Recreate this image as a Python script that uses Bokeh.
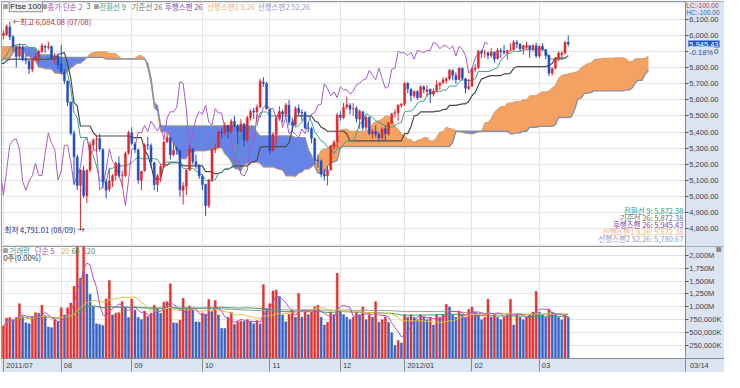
import numpy as np
import pandas as pd
from bokeh.plotting import figure
from bokeh.layouts import column
from bokeh.models import Range1d, FixedTicker, NumeralTickFormatter, Label, LinearAxis
from bokeh.embed import file_html
from bokeh.resources import INLINE

# ---------------- data ----------------
symbol = "Ftse 100"
holidays = ["2011-08-29", "2011-12-26", "2011-12-27", "2012-01-02"]
dates = [d for d in pd.bdate_range("2011-07-06", "2012-03-14")
         if d.strftime("%Y-%m-%d") not in holidays]

opens_jul = [6000, 6005, 6050, 5990, 5925, 5870, 5925, 5850, 5840, 5790, 5850, 5865, 5900, 5930, 5925, 5930, 5855, 5870]
highs_jul = [6030, 6065, 6084.08, 6000, 5935, 5950, 5940, 5880, 5845, 5850, 5890, 5910, 5950, 5940, 5960, 5935, 5890, 5880]
lows_jul = [5975, 5995, 5970, 5900, 5800, 5860, 5840, 5820, 5760, 5770, 5840, 5830, 5890, 5890, 5910, 5850, 5820, 5790]
closes_jul = [6010, 6054, 5990, 5929, 5868, 5929, 5847, 5843, 5792, 5847, 5867, 5900, 5935, 5926, 5929, 5857, 5873, 5815]

opens_aug = [5820, 5770, 5715, 5585, 5390, 5245, 5070, 5160, 5005, 5165, 5320, 5355, 5360, 5290, 5090, 5045, 5095, 5130, 5205, 5130, 5130, 5270]
highs_aug = [5940, 5790, 5720, 5590, 5410, 5260, 5170, 5190, 5170, 5340, 5360, 5380, 5390, 5300, 5110, 5170, 5140, 5220, 5250, 5160, 5280, 5410]
lows_aug = [5760, 5700, 5560, 5380, 5080, 5040, 4791.01, 4990, 4960, 5150, 5290, 5280, 5280, 5050, 4990, 5030, 5060, 5100, 5120, 5060, 5120, 5260]
closes_aug = [5774, 5718, 5585, 5393, 5247, 5069, 5165, 5008, 5162, 5320, 5351, 5357, 5295, 5093, 5040, 5096, 5129, 5206, 5131, 5130, 5268, 5395]

opens_sep = [5395, 5325, 5290, 5100, 5160, 5320, 5315, 5210, 5075, 5130, 5185, 5340, 5365, 5260, 5300, 5285, 5040, 5065, 5165, 5295, 5215, 5195]
highs_sep = [5430, 5340, 5295, 5160, 5330, 5370, 5330, 5215, 5140, 5200, 5345, 5400, 5370, 5340, 5310, 5290, 5090, 5170, 5320, 5300, 5260, 5200]
lows_sep = [5320, 5270, 5080, 5040, 5155, 5290, 5180, 5040, 5030, 5090, 5180, 5330, 5230, 5250, 5260, 5000, 4950, 5010, 5160, 5200, 5170, 5110]
closes_sep = [5330, 5292, 5103, 5156, 5318, 5319, 5215, 5073, 5129, 5186, 5338, 5368, 5260, 5288, 5289, 5042, 5066, 5165, 5295, 5217, 5197, 5128]

opens_oct = [5125, 5075, 4945, 5105, 5290, 5305, 5400, 5395, 5440, 5405, 5465, 5435, 5405, 5450, 5350, 5490, 5530, 5525, 5555, 5710, 5700]
highs_oct = [5140, 5080, 5110, 5300, 5330, 5410, 5420, 5460, 5445, 5480, 5500, 5450, 5480, 5455, 5500, 5540, 5550, 5570, 5730, 5740, 5710]
lows_oct = [5040, 4880, 4930, 5090, 5270, 5300, 5360, 5380, 5360, 5390, 5430, 5330, 5400, 5310, 5340, 5470, 5480, 5460, 5550, 5680, 5540]
closes_oct = [5075, 4944, 5103, 5292, 5303, 5400, 5395, 5441, 5404, 5467, 5437, 5406, 5450, 5350, 5488, 5526, 5525, 5553, 5713, 5702, 5544]

opens_nov = [5540, 5285, 5385, 5485, 5525, 5510, 5565, 5460, 5445, 5545, 5520, 5520, 5425, 5420, 5360, 5225, 5220, 5140, 5130, 5165, 5310, 5340]
highs_nov = [5545, 5400, 5500, 5560, 5540, 5580, 5600, 5480, 5560, 5570, 5540, 5530, 5460, 5430, 5365, 5260, 5230, 5170, 5190, 5320, 5350, 5520]
lows_nov = [5260, 5280, 5320, 5470, 5460, 5490, 5440, 5400, 5440, 5500, 5470, 5420, 5400, 5330, 5200, 5180, 5120, 5100, 5070, 5160, 5290, 5300]
closes_nov = [5284, 5384, 5484, 5527, 5511, 5567, 5461, 5444, 5545, 5519, 5518, 5424, 5423, 5362, 5223, 5222, 5139, 5128, 5164, 5313, 5337, 5505]

opens_dec = [5505, 5490, 5555, 5565, 5545, 5545, 5480, 5525, 5430, 5490, 5390, 5405, 5385, 5365, 5420, 5390, 5455, 5515, 5520, 5565]
highs_dec = [5530, 5580, 5620, 5580, 5580, 5560, 5540, 5530, 5500, 5495, 5420, 5440, 5400, 5430, 5440, 5460, 5520, 5540, 5570, 5580]
lows_dec = [5470, 5480, 5540, 5510, 5500, 5460, 5420, 5410, 5410, 5380, 5360, 5370, 5340, 5350, 5350, 5380, 5450, 5490, 5470, 5550]
closes_dec = [5490, 5552, 5568, 5543, 5547, 5484, 5529, 5428, 5491, 5391, 5403, 5387, 5364, 5419, 5390, 5457, 5512, 5519, 5567, 5572]

opens_jan = [5575, 5700, 5665, 5625, 5650, 5615, 5680, 5650, 5665, 5635, 5655, 5690, 5705, 5720, 5730, 5780, 5750, 5725, 5795, 5730, 5670]
highs_jan = [5710, 5710, 5670, 5660, 5660, 5690, 5690, 5690, 5670, 5670, 5720, 5710, 5740, 5740, 5790, 5790, 5770, 5800, 5800, 5735, 5730]
lows_jan = [5562.34, 5640, 5590, 5610, 5600, 5610, 5640, 5620, 5580, 5620, 5650, 5660, 5700, 5700, 5720, 5720, 5700, 5720, 5720, 5640, 5660]
closes_jan = [5700, 5668, 5625, 5650, 5613, 5680, 5662, 5662, 5637, 5654, 5693, 5703, 5722, 5729, 5782, 5752, 5724, 5796, 5733, 5671, 5682]

opens_feb = [5685, 5790, 5800, 5900, 5890, 5890, 5875, 5895, 5855, 5905, 5900, 5890, 5905, 5910, 5955, 5945, 5915, 5925, 5935, 5915, 5935]
highs_feb = [5800, 5820, 5910, 5910, 5910, 5900, 5920, 5900, 5920, 5920, 5940, 5910, 5950, 5970, 5970, 5950, 5940, 5960, 5940, 5945, 5955]
lows_feb = [5680, 5770, 5790, 5860, 5860, 5850, 5860, 5830, 5850, 5860, 5880, 5850, 5900, 5905, 5920, 5900, 5880, 5910, 5860, 5900, 5860]
closes_feb = [5790, 5796, 5901, 5892, 5890, 5875, 5895, 5852, 5906, 5899, 5892, 5905, 5906, 5956, 5946, 5916, 5935, 5935, 5915, 5934, 5872]

opens_mar = [5870, 5930, 5910, 5875, 5765, 5795, 5860, 5880, 5890, 5956]
highs_mar = [5935, 5950, 5915, 5880, 5800, 5865, 5900, 5900, 5965, 5999]
lows_mar = [5860, 5900, 5850, 5745.76, 5750, 5790, 5840, 5860, 5880, 5930]
closes_mar = [5931, 5912, 5875, 5765, 5792, 5859, 5888, 5888, 5956.15, 5945.43]

# volume, millions of shares
volume_jul = [630, 784, 796, 747, 796, 1061, 814, 691, 672, 814, 888, 876, 1030, 833, 611, 598, 753, 722]
volume_aug = [981, 845, 981, 1074, 1400, 2300, 1555, 2350, 1635, 1246, 1000, 672, 660, 640, 1154, 1512, 845, 876, 888, 1104, 1000, 796]
volume_sep = [1154, 938, 796, 753, 919, 814, 876, 1030, 969, 876, 1092, 1100, 1450, 691, 685, 740, 1166, 981, 1018, 938, 710, 705]
volume_oct = [876, 860, 1141, 907, 1123, 845, 586, 580, 796, 895, 660, 710, 722, 715, 753, 710, 672, 734, 670, 1431, 969]
volume_nov = [1061, 1308, 1327, 1203, 845, 710, 858, 938, 800, 1260, 800, 900, 850, 900, 1000, 1030, 800, 650, 700, 900, 850, 1650]
volume_dec = [900, 850, 800, 750, 800, 900, 850, 1000, 750, 850, 800, 1100, 700, 750, 800, 700, 500, 250, 350, 300]
volume_jan = [850, 800, 850, 800, 750, 850, 800, 750, 800, 650, 850, 800, 850, 1050, 1000, 850, 800, 900, 850, 800, 950]
volume_feb = [1000, 900, 850, 750, 800, 1150, 800, 850, 800, 750, 800, 850, 1150, 650, 850, 800, 750, 800, 850, 900, 1300]
volume_mar = [900, 850, 800, 950, 900, 850, 800, 750, 850, 800]

# 77 sessions before the first shown bar (needed by the Ichimoku windows)
pre_high = [5860, 5830, 5700, 5720, 5760, 5800, 5800, 5810, 5890, 5920, 5930, 5940, 5960, 5955,
            6020, 6040, 6030, 6060, 6045, 6070, 6075, 6050, 6020, 6010, 6010, 5995, 5910, 6030, 6045, 6080, 6085, 6090,
            6105, 6080, 5990, 5990, 5980, 5990, 5990, 5960, 5960, 5940, 5920, 5930, 5965, 5965, 5945, 5880, 5880, 5900, 5945, 5995,
            5995, 5930, 5900, 5880, 5900, 5865, 5870, 5860, 5800, 5820, 5805, 5745, 5760, 5740, 5785, 5790, 5770, 5760, 5770, 5790, 5865, 5950,
            6000, 6030, 6025]
pre_low = [5780, 5640, 5599, 5620, 5680, 5720, 5750, 5740, 5790, 5870, 5880, 5880, 5930, 5900,
           5910, 5990, 5980, 6000, 5990, 6000, 6030, 5920, 5930, 5940, 5950, 5860, 5860, 5900, 6000, 6020, 6040, 6040,
           6050, 5975, 5850, 5860, 5920, 5930, 5930, 5890, 5910, 5890, 5840, 5860, 5910, 5930, 5810, 5820, 5830, 5850, 5880, 5935,
           5920, 5840, 5830, 5840, 5850, 5800, 5800, 5750, 5740, 5770, 5730, 5650, 5690, 5680, 5720, 5760, 5620, 5680, 5690, 5750, 5780, 5850,
           5940, 5985, 5970]

opens = opens_jul + opens_aug + opens_sep + opens_oct + opens_nov + opens_dec + opens_jan + opens_feb + opens_mar
highs = highs_jul + highs_aug + highs_sep + highs_oct + highs_nov + highs_dec + highs_jan + highs_feb + highs_mar
lows = lows_jul + lows_aug + lows_sep + lows_oct + lows_nov + lows_dec + lows_jan + lows_feb + lows_mar
closes = closes_jul + closes_aug + closes_sep + closes_oct + closes_nov + closes_dec + closes_jan + closes_feb + closes_mar
volumes = volume_jul + volume_aug + volume_sep + volume_oct + volume_nov + volume_dec + volume_jan + volume_feb + volume_mar

# ---------------- derived (indicator maths) ----------------
N = len(closes)
idx = np.arange(N)
o = np.array(opens, float); h = np.array(highs, float)
l = np.array(lows, float); c = np.array(closes, float)
vol = np.array(volumes, float)

npre = len(pre_high)
H = pd.Series(pre_high + highs, dtype=float)
L = pd.Series(pre_low + lows, dtype=float)
b_all = np.arange(len(H)) - npre
mid = lambda n: ((H.rolling(n).max() + L.rolling(n).min()) / 2).to_numpy()
tenkan = mid(9); kijun = mid(26); span2 = mid(52)
span1 = (tenkan + kijun) / 2
SHIFT = 25

RED, BLUE = "#e3262b", "#1f4fc4"
col = np.where(c >= o, RED, BLUE)
vup = np.concatenate([[True], vol[1:] >= vol[:-1]])
vcol = np.where(vup, "#e5322f", "#3563c4")

# ---------------- layout constants ----------------
FONT_KR = "Noto Sans CJK KR"
FONT_NUM = "Liberation Sans"
W, H1, H2 = 724, 246, 126
FH1, FH2 = 245, 112
SX, SY = 724 / 740, 372 / 388
PXB = 3.209
x0 = -0.60
x_end = 212.5          # right price axis position (bar units)
x_far = 224.7          # right edge of the canvas (bar units)
xr = Range1d(x0, x_far)
AXIS_BG = "#dbe5f1"
GRID = "#e3e3e3"
TXT = "#3c4250"

def lab(fig, fig_top, frame_top, frame_h, rx, ry, text, color, size="7.5px",
        align="left", font=FONT_KR, **kw):
    fig.add_layout(Label(x=rx * SX - 1, y=frame_h - (ry * SY - fig_top - frame_top),
                         x_units="screen", y_units="screen", text=text,
                         text_color=color, text_font_size=size, text_align=align,
                         text_baseline="middle", text_font=font, **kw))

def price_axis(fig, ticks, formatter=None, overrides=None):
    ax = LinearAxis(fixed_location=x_end, ticker=FixedTicker(ticks=ticks))
    if formatter is not None:
        ax.formatter = formatter
    if overrides is not None:
        ax.major_label_overrides = overrides
    ax.major_label_text_font_size = "7.5px"
    ax.major_label_text_font = FONT_NUM
    ax.major_label_text_color = TXT
    ax.major_tick_out = 3
    ax.major_tick_in = 0
    ax.minor_tick_out = 0
    ax.minor_tick_in = 0
    ax.major_label_standoff = 1
    ax.axis_line_color = "#8a8a8a"
    ax.major_tick_line_color = "#555555"
    fig.add_layout(ax, "right")

# ---------------- main price panel ----------------
p = figure(width=W, height=H1, x_range=xr, y_range=Range1d(4691, 6209),
           output_backend="svg", toolbar_location=None, x_axis_location=None,
           y_axis_location=None, min_border_left=1, min_border_top=1,
           min_border_bottom=0, min_border_right=0)
p.border_fill_color = AXIS_BG
p.outline_line_color = "#9a9a9a"
p.ygrid.ticker = FixedTicker(ticks=list(range(4700, 6201, 100)))
month_keys = [d.strftime("%Y-%m") for d in dates]
month_start = [i for i in range(N) if i == 0 or month_keys[i] != month_keys[i - 1]]
p.xgrid.ticker = FixedTicker(ticks=month_start)
p.grid.grid_line_color = GRID

# cloud
sel = (b_all + SHIFT >= -1)
sx_ = (b_all + SHIFT)[sel].astype(float)
a_ = span1[sel]; b_ = span2[sel]
xs, ya, yb = [], [], []
for i in range(len(sx_)):
    if i > 0:
        d0 = a_[i - 1] - b_[i - 1]; d1 = a_[i] - b_[i]
        if d0 * d1 < 0:
            t = d0 / (d0 - d1)
            yc = a_[i - 1] + t * (a_[i] - a_[i - 1])
            xs.append(sx_[i - 1] + t); ya.append(yc); yb.append(yc)
    xs.append(sx_[i]); ya.append(a_[i]); yb.append(b_[i])
xs = np.array(xs); ya = np.array(ya); yb = np.array(yb)
top = np.maximum(ya, yb)
p.varea(x=xs, y1=yb, y2=top, fill_color="#f4a262")
p.varea(x=xs, y1=ya, y2=top, fill_color="#6584e6")
p.line(sx_, a_, line_color="#d99a6c", line_width=1)
p.line(sx_, b_, line_color="#8990a6", line_width=1.4)

# tenkan / kijun
ts = b_all >= -1
p.line(b_all[ts], kijun[ts], line_color="#4a4a4a", line_width=1.2)
p.line(b_all[ts], tenkan[ts], line_color="#39a08a", line_width=1)
# lagging span
cs = idx - SHIFT >= -1
p.line((idx - SHIFT)[cs], c[cs], line_color="#a65cc2", line_width=1)

# candles
p.segment(x0=idx, y0=l, x1=idx, y1=h, line_color=col, line_width=1)
p.vbar(x=idx, bottom=np.minimum(o, c), top=np.maximum(o, c) + 0.5, width=0.62,
       fill_color=col, line_color=col, line_width=0.5)

# price-axis strip and axis
p.quad(left=x_end, right=x_far, bottom=4691, top=6209, fill_color=AXIS_BG, line_color=None)
price_axis(p, list(range(4800, 6101, 100)), formatter=NumeralTickFormatter(format="0,0.00"))

# header legend
lab(p, 0, 1, FH1, 2, 6, "■", "#a0a0a0", size="6px")
lab(p, 0, 1, FH1, 9, 6, symbol, "#1a1a1a", size="8px", font=FONT_NUM,
    border_line_color="#8c8c8c", background_fill_color="#efefef", padding=1)
lab(p, 0, 1, FH1, 42, 6, "■", "#a0a0a0", size="6px")
lab(p, 0, 1, FH1, 48, 6, "종가 단순 2", "#a848b0")
lab(p, 0, 1, FH1, 88, 6, "3", "#5a5a5a")
lab(p, 0, 1, FH1, 95, 6, "■", "#a0a0a0", size="6px")
lab(p, 0, 1, FH1, 101, 6, "전환선 9", "#2f9c86")
lab(p, 0, 1, FH1, 134, 6, "기준선 26", "#6e6e6e")
lab(p, 0, 1, FH1, 168, 6, "후행스팬 26", "#8e3aa6")
lab(p, 0, 1, FH1, 211, 6, "선행스팬1 9,26", "#f0ae74")
lab(p, 0, 1, FH1, 263, 6, "선행스팬2 52,26", "#8c9cc8")

# high / low marks
ihi = int(np.argmax(h)); ilo = int(np.argmin(l))
p.add_layout(Label(x=ihi, y=h[ihi], x_offset=3, text=f"←최고 {h[ihi]:,.2f} ({dates[ihi]:%m/%d})",
                   text_color="#b02a2a", text_font_size="7.5px", text_baseline="middle",
                   text_font=FONT_KR))
p.add_layout(Label(x=3, x_units="screen", y=l[ilo] + 8,
                   text=f"최저 {l[ilo]:,.2f} ({dates[ilo]:%m/%d}) →",
                   text_color="#1e2a86", text_font_size="7.5px", text_baseline="middle",
                   text_font=FONT_KR))

# current values (bottom right)
vals = [(f"전환선 9: {tenkan[-1]:,.2f}", "#2f9c86"),
        (f"기준선 26: {kijun[-1]:,.2f}", "#6e6e6e"),
        (f"후행스팬 26: {c[-1]:,.2f}", "#8e3aa6"),
        (f"선행스팬1 9,26: {span1[-1]:,.2f}", "#f0ae74"),
        (f"선행스팬2 52,26: {span2[-1]:,.2f}", "#8c9cc8")]
for k, (t, colr) in enumerate(vals):
    lab(p, 0, 1, FH1, 698, 219 + k * 7.3, t, colr, align="right")

# right axis extras
lab(p, 0, 1, FH1, 701, 5, "LC:-100.00", "#b84040", size="6.5px", font=FONT_NUM)
lab(p, 0, 1, FH1, 701, 12, "HC:-100.00", "#3460b0", size="6.5px", font=FONT_NUM)
chg = (c[-1] / c[-2] - 1) * 100
p.add_layout(Label(x=x_end, x_offset=3, y=c[-1], text=f"{c[-1]:,.2f}",
                   text_color="white", background_fill_color="#1f56c8", padding=1,
                   text_font_size="7.5px", text_baseline="middle", text_font=FONT_NUM))
p.add_layout(Label(x=x_end, x_offset=3, y=c[-1], y_offset=-8, text=f"{chg:.2f}%",
                   text_color="#2050c0", background_fill_color=AXIS_BG, padding=1,
                   text_font_size="7.5px", text_baseline="middle", text_font=FONT_NUM))

# ---------------- volume panel ----------------
v = figure(width=W, height=H2, x_range=xr, y_range=Range1d(0, 2170),
           output_backend="svg", toolbar_location=None, y_axis_location=None,
           min_border_left=1, min_border_top=0, min_border_bottom=H2 - FH2,
           min_border_right=0)
v.border_fill_color = AXIS_BG
v.outline_line_color = "#9a9a9a"
vt = list(range(250, 2001, 250))
v.ygrid.ticker = FixedTicker(ticks=vt)
v.xgrid.ticker = FixedTicker(ticks=month_start)
v.grid.grid_line_color = GRID

labels = []
for i in month_start:
    d = dates[i]
    labels.append(d.strftime("%Y/%m") if (i == 0 or d.month == 1) else d.strftime("%m"))
centers = []
for i, t in zip(month_start, labels):
    wpx = sum(2.1 if ch == "/" else 4.2 for ch in t)
    centers.append(round(i + (wpx / 2 + 2.5) / PXB, 2))
last_lbl = dates[-1].strftime("%m/%d")
last_c = round(x_end + (2.5 + 11.5) / PXB, 2)
v.xaxis.ticker = FixedTicker(ticks=centers + [last_c], minor_ticks=month_start + [x_end])
ov = {cc: t for cc, t in zip(centers, labels)}
ov[last_c] = last_lbl
v.xaxis.major_label_overrides = ov
v.xaxis.major_tick_out = 0
v.xaxis.major_tick_in = 0
v.xaxis.minor_tick_out = 13
v.xaxis.minor_tick_in = 0
v.xaxis.minor_tick_line_color = "#8a8a8a"
v.xaxis.axis_line_color = "#8a8a8a"
v.xaxis.major_label_standoff = -11
v.xaxis.major_label_text_font_size = "7.5px"
v.xaxis.major_label_text_font = FONT_NUM
v.xaxis.major_label_text_color = TXT

v.vbar(x=idx, top=vol, width=0.62, fill_color=vcol, line_color=vcol, line_width=0.5)
vs = pd.Series(vol)
for n, colr in [(120, "#9a9a9a"), (60, "#39a060"), (20, "#e6be3c"), (5, "#b050c8")]:
    v.line(idx, vs.rolling(n, min_periods=1).mean().to_numpy(), line_color=colr, line_width=1)

v.quad(left=x_end, right=x_far, bottom=0, top=2170, fill_color=AXIS_BG, line_color=None)
price_axis(v, vt, overrides={t: (f"{t:,}M" if t >= 1000 else f"{t * 1000:,}K") for t in vt})

lab(v, H1, 0, FH2, 2, 261, "■", "#a0a0a0", size="6px")
lab(v, H1, 0, FH2, 9, 261, "거래량", "#3a9c9c")
lab(v, H1, 0, FH2, 35, 261, "단순 5", "#a050c0")
lab(v, H1, 0, FH2, 62, 261, "20", "#e0b830")
lab(v, H1, 0, FH2, 72.5, 261, "60", "#2f9a5a")
lab(v, H1, 0, FH2, 84, 261, "120", "#7a7a7a")
lab(v, H1, 0, FH2, 3, 268.5, "0주(0.00%)", "#333333")
lab(v, H1, 0, FH2, 731, 260, "■", "#8a8a8a", size="6px")

layout = column(p, v)
open("out.html", "w").write(file_html(layout, INLINE))
